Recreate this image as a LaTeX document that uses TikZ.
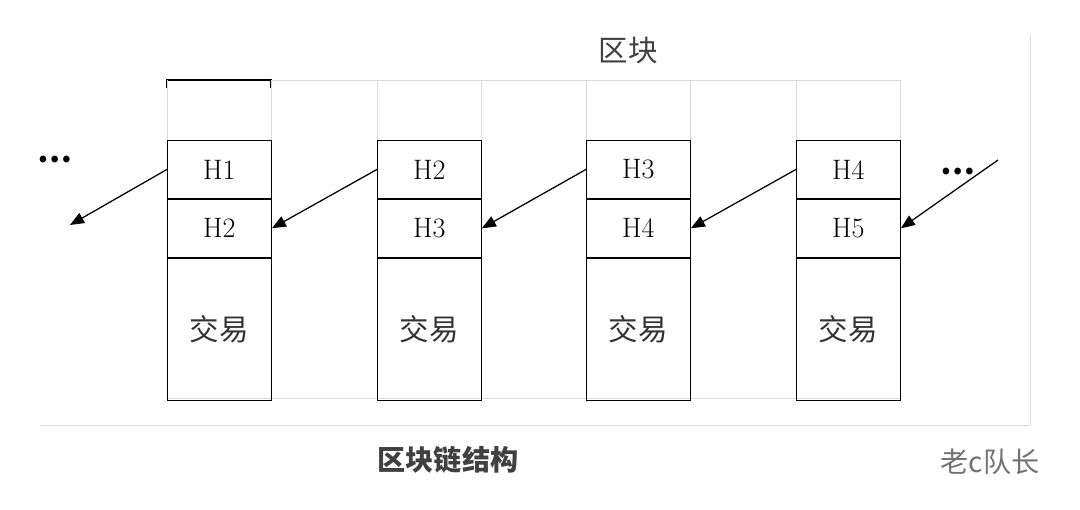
\documentclass[tikz,border=0pt]{standalone}
\usepackage{fontspec}
\newfontfamily\cjk{Noto Sans CJK SC}
\usetikzlibrary{positioning}
\usetikzlibrary{arrows.meta}
\tikzset{
  cell/.style={rectangle, draw=black, line width=0.6pt, minimum width=2.6cm, inner sep=0pt, font=\fontsize{20}{22}\selectfont},
  link/.style={-{Triangle[length=10pt,width=8pt]}, line width=0.9pt},
  guide/.style={draw=black!15, line width=0.5pt}
}
\begin{document}
\begin{tikzpicture}[x=0.025cm,y=-0.025cm]
	\useasboundingbox (0,0) rectangle (1080,510);
	\node[font=\cjk\fontsize{21}{23}\selectfont, text=black!75](blockLabel) at (628,50){区块};
	\draw[guide] (271,80) -- (900,80);
	\draw[guide] (167,398) -- (900,398);
	\draw[guide] (40,425) -- (1030,425);
	\draw[guide] (1030,35) -- (1030,425);
	\draw[line width=0.9pt] (167,88) |- (271,80) -- (271,88);
	\foreach \i/\x in {1/167,2/377,3/586,4/796}{
		\pgfmathtruncatemacro{\n}{\i+1}
		\draw[guide] (\x,80) -- (\x,140);
		\draw[guide] (\x+104,80) -- (\x+104,140);
		\node[cell, minimum height=1.45cm, anchor=north west](hashA\i) at (\x,140){H\i};
		\node[cell, minimum height=1.45cm, below=0pt of hashA\i](hashB\i){H\n};
		\node[cell, minimum height=3.55cm, below=0pt of hashB\i, font=\cjk\fontsize{21}{23}\selectfont, text=black!80](txBox\i){交易};
	}
	\node[font=\cjk\fontsize{22}{24}\selectfont\bfseries](dotsL) at (55,160){\char"2026};
	\node[font=\cjk\fontsize{22}{24}\selectfont\bfseries](dotsR) at (958,172){\char"2026};
	\coordinate(endL) at (70,225);
	\coordinate(startR) at (998,160);
	\draw[link] (hashA1.west) -- (endL);
	\draw[link] (hashA2.west) -- (hashB1.east);
	\draw[link] (hashA3.west) -- (hashB2.east);
	\draw[link] (hashA4.west) -- (hashB3.east);
	\draw[link] (startR) -- (hashB4.east);
	\node[font=\cjk\fontsize{20}{22}\selectfont\bfseries, text=black!75](caption) at (448,460){区块链结构};
	\node[font=\cjk\fontsize{20}{22}\selectfont, text=black!55](mark) at (990,462){老c队长};
\end{tikzpicture}
\end{document}
